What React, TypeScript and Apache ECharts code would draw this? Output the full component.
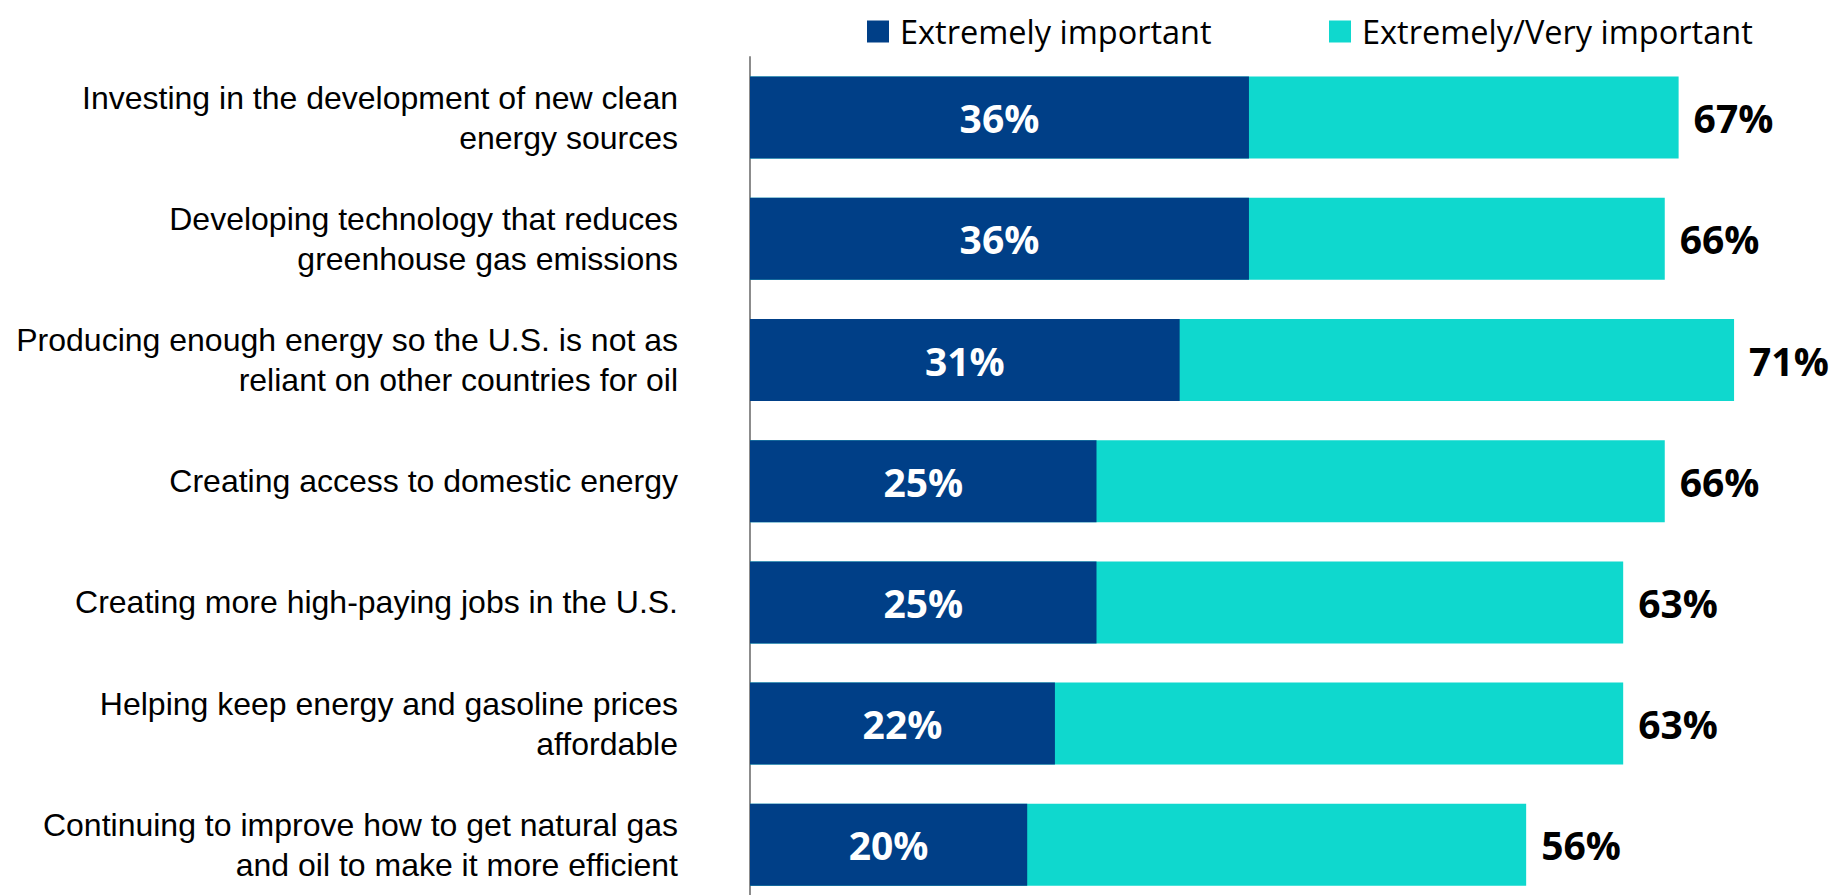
import React, { useEffect, useRef } from "react";
import * as echarts from "echarts";

const categories = [
  "Investing in the development of new clean\nenergy sources",
  "Developing technology that reduces\ngreenhouse gas emissions",
  "Producing enough energy so the U.S. is not as\nreliant on other countries for oil",
  "Creating access to domestic energy",
  "Creating more high-paying jobs in the U.S.",
  "Helping keep energy and gasoline prices\naffordable",
  "Continuing to improve how to get natural gas\nand oil to make it more efficient",
];
const extremelyImportant = [36, 36, 31, 25, 25, 22, 20];
const extremelyVeryImportant = [67, 66, 71, 66, 63, 63, 56];
const seriesNames = ["Extremely important", "Extremely/Very important"];

const DARK = "#003F87";
const TEAL = "#0FD8CE";

export default function App() {
  const ref = useRef<HTMLDivElement>(null);
  useEffect(() => {
    if (!ref.current) return;
    const chart = echarts.init(ref.current, null, { renderer: "svg" });
    const legendText = {
      fontFamily: "Open Sans",
      fontSize: 32.5,
      color: "#000",
      padding: [0, 0, 0, 6],
    };
    const valueFont = {
      fontFamily: "Open Sans",
      fontWeight: "bold",
      fontSize: 39,
    };
    chart.setOption({
      animation: false,
      backgroundColor: "#fff",
      legend: [
        {
          data: [seriesNames[0]],
          left: 862,
          top: 10,
          itemWidth: 22,
          itemHeight: 22,
          icon: "rect",
          textStyle: legendText,
          selectedMode: false,
        },
        {
          data: [seriesNames[1]],
          left: 1324,
          top: 10,
          itemWidth: 22,
          itemHeight: 22,
          icon: "rect",
          textStyle: legendText,
          selectedMode: false,
        },
      ],
      grid: {
        left: 750,
        top: 57,
        width: 1039.5,
        height: 848.4,
        containLabel: false,
        outerBoundsMode: "none",
      },
      xAxis: {
        type: "value",
        min: 0,
        max: 75,
        show: false,
      },
      yAxis: {
        type: "category",
        data: categories,
        inverse: true,
        axisLine: { show: true, lineStyle: { color: "#8C8C8C", width: 2 } },
        axisTick: { show: false },
        axisLabel: {
          margin: 72,
          align: "right",
          fontFamily: "Liberation Sans",
          fontSize: 32,
          lineHeight: 40,
          color: "#000",
          padding: [4, 0, 0, 0],
        },
      },
      series: [
        {
          name: seriesNames[1],
          type: "bar",
          data: extremelyVeryImportant,
          barWidth: 82,
          barGap: "-100%",
          itemStyle: { color: TEAL },
          label: {
            show: true,
            position: "right",
            distance: 15,
            formatter: "{c}%",
            ...valueFont,
            color: "#000",
          },
        },
        {
          name: seriesNames[0],
          type: "bar",
          data: extremelyImportant,
          barWidth: 82,
          barGap: "-100%",
          itemStyle: { color: DARK },
          label: {
            show: true,
            position: "inside",
            formatter: "{c}%",
            ...valueFont,
            color: "#fff",
          },
        },
      ],
    });
    return () => chart.dispose();
  }, []);
  return (
    <div
      ref={ref}
      style={{ position: "absolute", left: 0, top: 0, width: 1846, height: 895 }}
    />
  );
}
